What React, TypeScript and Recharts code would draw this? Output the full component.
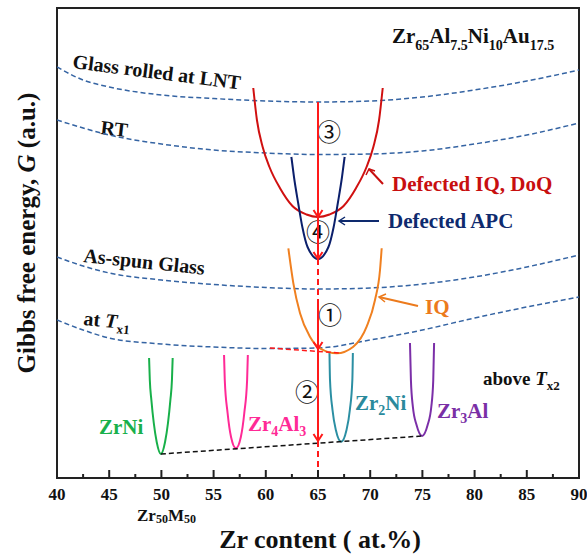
import { ComposedChart, Line, XAxis, YAxis, ReferenceArea, ReferenceDot, Customized } from "recharts";

type Pt = [number, number];

// x: Zr content (at.%), g: free energy (arbitrary units)
const xTicks = [40, 42.5, 45, 47.5, 50, 52.5, 55, 57.5, 60, 62.5, 65, 67.5, 70, 72.5, 75, 77.5, 80, 82.5, 85, 87.5, 90];

const glassLNT: Pt[] = [[40, 411], [42.5, 398], [45, 391], [50, 383], [55, 379.5], [60, 377], [65, 376], [70, 377], [75, 381], [80, 388], [85, 397], [90, 408]];
const glassRT: Pt[] = [[40, 358], [42.5, 350], [45, 343], [50, 334], [55, 328], [60, 325], [65, 323.5], [70, 324], [75, 327], [80, 334], [85, 343], [90, 355]];
const asSpun: Pt[] = [[40, 221], [42.5, 212], [45, 205], [50, 198], [55, 193.5], [60, 190.5], [65, 189], [70, 190], [75, 194], [80, 201], [85, 211], [90, 223]];
const atTx1: Pt[] = [[40, 158], [42.5, 148], [45, 140], [50, 134], [55, 131], [60, 129.5], [65, 130], [70, 138], [75, 148], [80, 160], [85, 171], [90, 181]];

const defectedIQ: Pt[] = [[58.8, 390], [59.15, 358], [59.7, 331], [60.35, 311], [61.35, 290], [62.55, 272], [63.9, 263.5], [65.0, 261], [66.1, 263.5], [67.45, 272], [68.65, 290], [69.65, 311], [70.3, 331], [70.85, 358], [71.2, 390]];
const defectedAPC: Pt[] = [[62.45, 321], [62.7, 301], [63.1, 275], [63.5, 251], [64, 231], [65, 219], [66, 231], [66.5, 251], [66.9, 275], [67.3, 301], [67.55, 321]];
const iqCurve: Pt[] = [[62.16, 229.7], [62.64, 194.7], [63.28, 164.7], [64.23, 141.3], [65.19, 129.7], [66.79, 124.7], [68.38, 131.3], [69.66, 151.3], [70.46, 178], [70.94, 208], [71.1, 229.7]];

const zrNi: Pt[] = [[48.82, 120], [48.89, 98], [49.04, 78], [49.27, 55], [49.55, 36], [49.95, 24], [50.35, 36], [50.63, 55], [50.86, 78], [51.01, 98], [51.08, 120]];
const zr4Al3: Pt[] = [[56.0, 123], [56.07, 98], [56.34, 65], [56.67, 41], [57.14, 29.7], [57.61, 41], [57.94, 65], [58.21, 98], [58.28, 123]];
const zr2Ni: Pt[] = [[66.1, 125], [66.15, 98], [66.39, 68], [66.71, 48], [67.22, 36.3], [67.73, 48], [68.05, 68], [68.29, 98], [68.34, 125]];
const zr3Al: Pt[] = [[73.81, 135], [73.9, 98], [74.09, 71], [74.44, 53], [74.97, 42], [75.5, 53], [75.85, 71], [76.04, 98], [76.12, 135]];

const hullLine: Pt[] = [[49.95, 24], [74.97, 42]];
const tx1Tangent: Pt[] = [[60.4, 130], [67.1, 125]];

const pathTop: Pt[] = [[65, 376], [65, 219]];
const pathGap: Pt[] = [[65, 219], [65, 173]];
const pathLow: Pt[] = [[65, 173], [65, 37]];
const pathBase: Pt[] = [[65, 37], [65, 0]];
const arrowTips = [261, 219, 129, 37];

const rows = (pts: Pt[]) => pts.map(([x, g]) => ({ x, g }));

const serif = "'Liberation Serif', 'Times New Roman', serif";
const circled = "'Noto Sans CJK JP', 'DejaVu Sans', sans-serif";
const RED = "#ff1a1a";
const BLUE_DASH = "#3564a3";

const XTick = (props: any) => {
  const { x, y, payload } = props;
  const v = payload.value;
  const major = v % 5 === 0;
  return (
    <g>
      <line x1={x} x2={x} y1={y} y2={y - (major ? 8 : 4)} stroke="#222" strokeWidth={2} />
      {major && (
        <text x={x} y={y + 22} textAnchor="middle" fontFamily={serif} fontWeight="bold" fontSize={17} fill="#111">
          {v}
        </text>
      )}
    </g>
  );
};

const ArrowHead = (props: any) => {
  const { cx, cy } = props;
  return <path d={`M${cx - 4.5},${cy - 7} L${cx},${cy} L${cx + 4.5},${cy - 7}`} stroke={RED} strokeWidth={2} fill="none" />;
};

function Annotations() {
  return (
    <g fontFamily={serif} fontWeight="bold">
      <text x={392} y={43} fontSize={21} fill="#111">
        Zr<tspan fontSize={14} dy={7}>65</tspan>
        <tspan dy={-7}>Al</tspan><tspan fontSize={14} dy={7}>7.5</tspan>
        <tspan dy={-7}>Ni</tspan><tspan fontSize={14} dy={7}>10</tspan>
        <tspan dy={-7}>Au</tspan><tspan fontSize={14} dy={7}>17.5</tspan>
      </text>

      <text x={72} y={68} fontSize={20} fill="#111" transform="rotate(7.3 72 68)">Glass rolled at LNT</text>
      <text x={100} y={134} fontSize={20} fill="#111" transform="rotate(6.6 100 134)">RT</text>
      <text x={83} y={262} fontSize={20} fill="#111" transform="rotate(6 83 262)">As-spun Glass</text>
      <text x={83} y={325} fontSize={20} fill="#111" transform="rotate(5.5 83 325)">
        at <tspan fontStyle="italic">T</tspan><tspan fontSize={13} dy={5}>x1</tspan>
      </text>
      <text x={483} y={385} fontSize={19} fill="#111">
        above <tspan fontStyle="italic">T</tspan><tspan fontSize={13} dy={5}>x2</tspan>
      </text>

      <text x={392} y={191} fontSize={21} fill="#c80f0f">Defected IQ, DoQ</text>
      <text x={388} y={228} fontSize={21} fill="#0e2a6e">Defected APC</text>
      <text x={425} y={314} fontSize={21} fill="#ec7a1c">IQ</text>

      <text x={99} y={434} fontSize={21} fill="#19b04b">ZrNi</text>
      <text x={248} y={431} fontSize={21} fill="#ff2a96">
        Zr<tspan fontSize={14} dy={5}>4</tspan><tspan dy={-5}>Al</tspan><tspan fontSize={14} dy={5}>3</tspan>
      </text>
      <text x={355} y={410} fontSize={21} fill="#2a8a9c">
        Zr<tspan fontSize={14} dy={5}>2</tspan><tspan dy={-5}>Ni</tspan>
      </text>
      <text x={437} y={418} fontSize={21} fill="#7a2fa6">
        Zr<tspan fontSize={14} dy={5}>3</tspan><tspan dy={-5}>Al</tspan>
      </text>

      <text x={137} y={521} fontSize={17} fill="#111">
        Zr<tspan fontSize={12} dy={2}>50</tspan><tspan dy={-2}>M</tspan><tspan fontSize={12} dy={2}>50</tspan>
      </text>

      <text x={320} y={548} fontSize={26} fill="#111" textAnchor="middle">Zr content ( at.%)</text>
      <text x={35} y={233} fontSize={25} fill="#111" textAnchor="middle" transform="rotate(-90 35 233)">
        Gibbs free energy, <tspan fontStyle="italic">G</tspan> (a.u.)
      </text>

      {/* pointers */}
      <line x1={369} y1={169} x2={383} y2={184} stroke="#c80f0f" strokeWidth={2} />
      <path d="M366,175 L369,169 L375,171" stroke="#c80f0f" strokeWidth={1.5} fill="none" />
      <line x1={339} y1={221} x2={379} y2={221} stroke="#0e2a6e" strokeWidth={2} />
      <path d="M345,217 L339,221 L345,225" stroke="#0e2a6e" strokeWidth={1.5} fill="none" />
      <line x1={379} y1={297} x2={418} y2={306} stroke="#ec7a1c" strokeWidth={2} />
      <path d="M386,294 L379,297 L385,302" stroke="#ec7a1c" strokeWidth={1.5} fill="none" />

      <g fontFamily={circled} fontWeight="normal" fontSize={24} fill="#111" textAnchor="middle" dominantBaseline="central">
        <text x={329} y={130}>③</text>
        <text x={318} y={230}>④</text>
        <text x={330} y={313}>①</text>
        <text x={307} y={390}>②</text>
      </g>
    </g>
  );
}

export default function App() {
  const curve = (pts: Pt[], color: string, width = 2, dash?: string, type: any = "monotone") => (
    <Line
      data={rows(pts)}
      dataKey="g"
      type={type}
      stroke={color}
      strokeWidth={width}
      strokeDasharray={dash}
      dot={false}
      activeDot={false}
      isAnimationActive={false}
    />
  );

  return (
    <div style={{ position: "absolute", left: 0, top: 0, background: "#fff" }}>
      <ComposedChart width={587} height={554} margin={{ top: 8, right: 8, left: 57, bottom: 46 }}>
        <XAxis
          type="number"
          dataKey="x"
          domain={[40, 90]}
          ticks={xTicks}
          interval={0}
          height={30}
          axisLine={false}
          tickLine={false}
          tickSize={0}
          tickMargin={0}
          tick={<XTick />}
          allowDataOverflow
        />
        <YAxis type="number" domain={[0, 470]} hide allowDataOverflow />
        <ReferenceArea x1={40} x2={90} y1={0} y2={470} fill="none" stroke="#222" strokeWidth={2} ifOverflow="visible" />

        {curve(glassLNT, BLUE_DASH, 1.5, "5 3")}
        {curve(glassRT, BLUE_DASH, 1.5, "5 3")}
        {curve(asSpun, BLUE_DASH, 1.5, "5 3")}
        {curve(atTx1, BLUE_DASH, 1.5, "5 3")}

        {curve(zrNi, "#18b04a")}
        {curve(zr4Al3, "#ff2a96")}
        {curve(zr2Ni, "#2b8fa3")}
        {curve(zr3Al, "#7b2fa8")}
        {curve(hullLine, "#111", 1.5, "5 3", "linear")}

        {curve(defectedIQ, "#d01010")}
        {curve(defectedAPC, "#0b1f6b")}
        {curve(iqCurve, "#f08020")}
        {curve(tx1Tangent, RED, 1.5, "5 3", "linear")}

        {curve(pathTop, RED, 2, undefined, "linear")}
        {curve(pathGap, RED, 2, "6 4", "linear")}
        {curve(pathLow, RED, 2, undefined, "linear")}
        {curve(pathBase, RED, 2, "6 4", "linear")}
        {arrowTips.map((g) => (
          <ReferenceDot key={g} x={65} y={g} r={0} shape={<ArrowHead />} ifOverflow="visible" />
        ))}

        <Customized component={Annotations} />
      </ComposedChart>
    </div>
  );
}
